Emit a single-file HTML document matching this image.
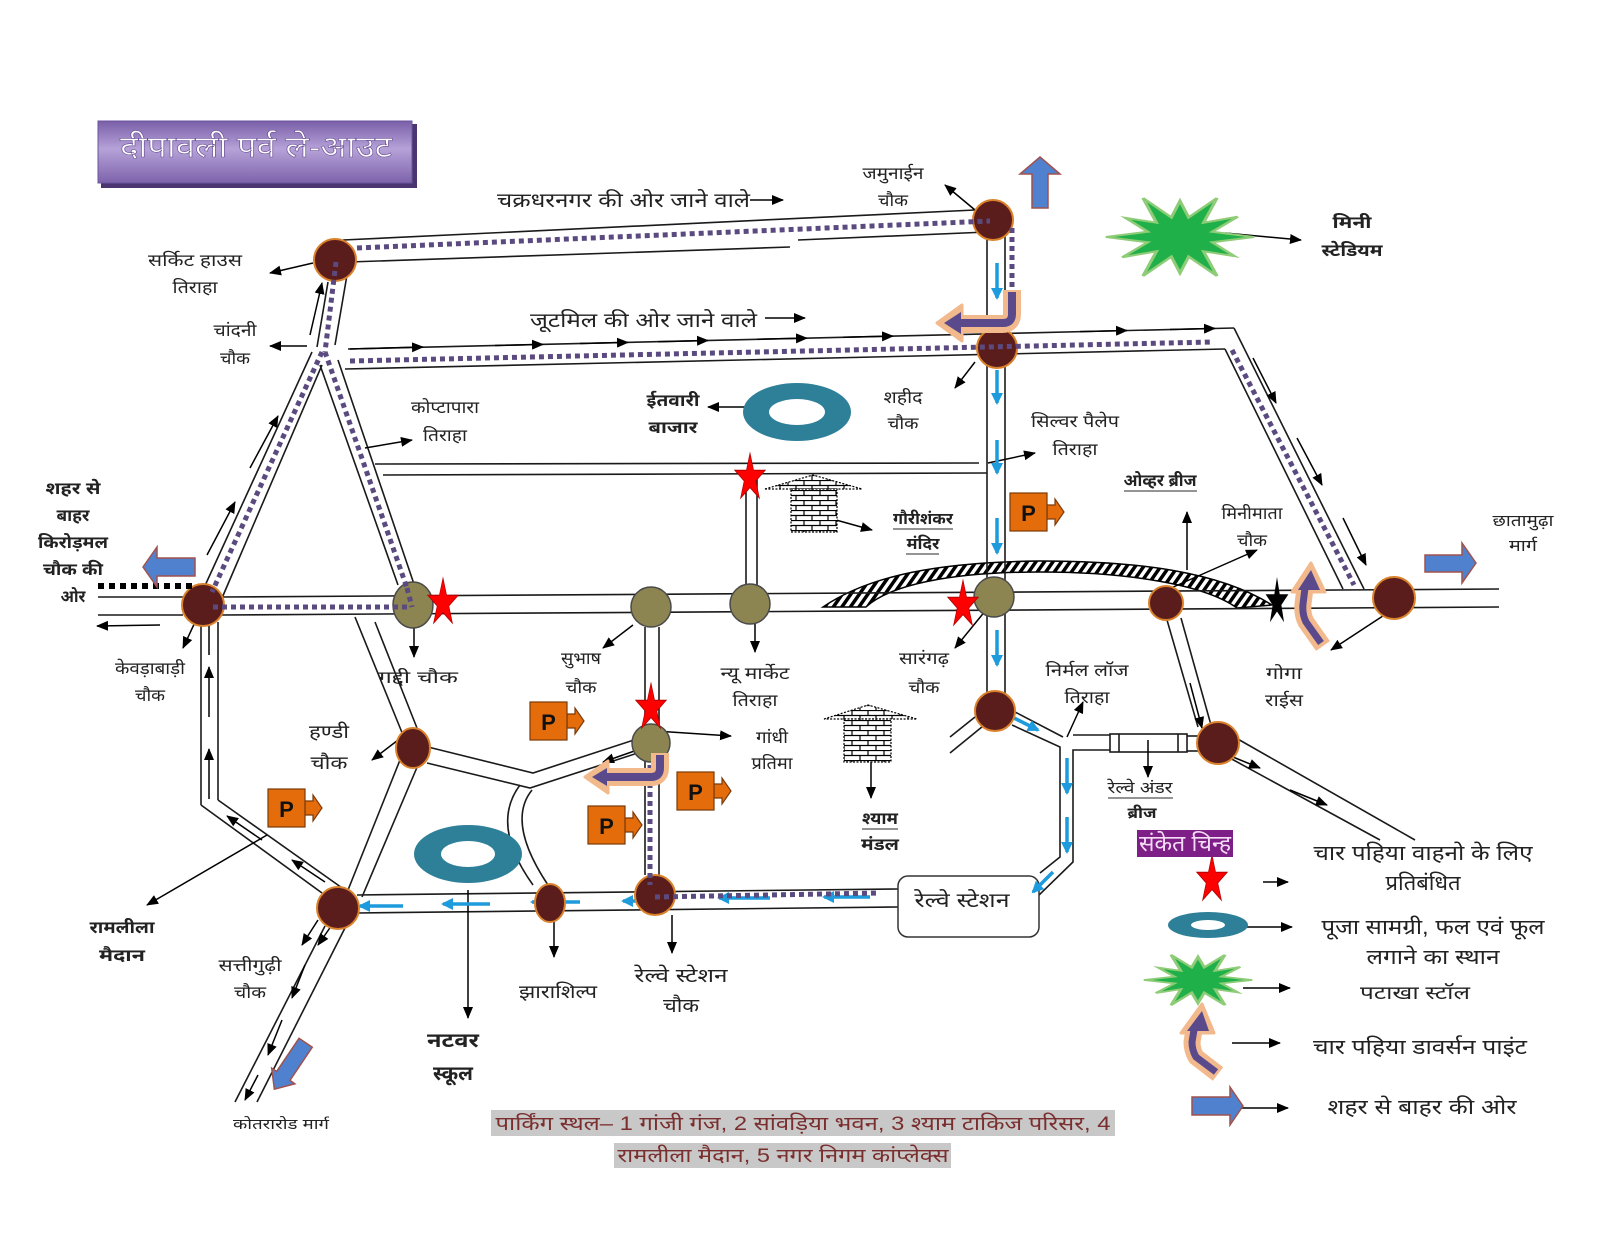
<!DOCTYPE html>
<html><head><meta charset="utf-8"><style>
html,body{margin:0;padding:0;background:#fff;}
svg{display:block;}
text{font-family:"Liberation Sans","Noto Sans Devanagari","Lohit Devanagari","FreeSans",sans-serif;fill:#222;}
.b{font-weight:bold;}
</style></head><body>
<svg width="1600" height="1236" viewBox="0 0 1600 1236" xmlns="http://www.w3.org/2000/svg" xmlns:xlink="http://www.w3.org/1999/xlink">
<defs>
<marker id="ah" markerUnits="userSpaceOnUse" markerWidth="12" markerHeight="10" refX="11" refY="5" orient="auto"><path d="M0,0L12,5L0,10z" fill="#000"/></marker>
<marker id="bh" markerUnits="userSpaceOnUse" markerWidth="12" markerHeight="12" refX="10" refY="6" orient="auto"><path d="M0,0L12,6L0,12z" fill="#1e9bdc"/></marker>
<linearGradient id="tg" x1="0" y1="0" x2="0" y2="1">
<stop offset="0" stop-color="#7a5fa8"/><stop offset="0.45" stop-color="#b6a2d8"/><stop offset="1" stop-color="#7d62ab"/>
</linearGradient>
<pattern id="hatch" width="7" height="7" patternUnits="userSpaceOnUse" patternTransform="rotate(35)">
<rect width="7" height="7" fill="#fff"/><rect x="0" y="0" width="3.5" height="7" fill="#000"/>
</pattern>
<pattern id="brick" width="16" height="10" patternUnits="userSpaceOnUse">
<rect width="16" height="10" fill="#fff"/><path d="M0,0.5H16M0,5.5H16M4,0.5V5.5M12,5.5V10" stroke="#000" stroke-width="1.2" fill="none"/>
</pattern>
<path id="st" d="M0,-1 L0.225,-0.309 L0.951,-0.309 L0.363,0.118 L0.588,0.809 L0,0.382 L-0.588,0.809 L-0.363,0.118 L-0.951,-0.309 L-0.225,-0.309Z"/>
<polygon id="burst" points="1,0 0.435,0.117 0.736,0.425 0.318,0.318 0.5,0.866 0.117,0.435 0,0.8 -0.117,0.435 -0.5,0.866 -0.318,0.318 -0.779,0.45 -0.435,0.117 -1,0 -0.435,-0.117 -0.736,-0.425 -0.318,-0.318 -0.5,-0.866 -0.117,-0.435 0,-0.8 0.117,-0.435 0.5,-0.866 0.318,-0.318 0.779,-0.45 0.435,-0.117"/>
</defs>

<rect width="1600" height="1236" fill="#fff"/>

<!-- Title -->
<rect x="101" y="124" width="316" height="64" fill="#4a3570"/>
<rect x="98" y="121" width="314" height="62" fill="url(#tg)" stroke="#6a55a0" stroke-width="1"/>
<text x="120" y="157" font-size="30" textLength="272" lengthAdjust="spacingAndGlyphs" style="fill:#fff;stroke:#6a4f96;stroke-width:0.6">दीपावली पर्व ले-आउट</text>

<!-- Overbridge hatched -->
<path d="M823,607 C870,575 940,562 1040,561 C1140,561 1220,572 1272,605 L1237,608 C1205,585 1130,572 1040,572 C950,572 890,585 866,607 Z" fill="url(#hatch)" stroke="#000" stroke-width="1.5"/>

<!-- Roads -->
<g stroke="#1a1a1a" stroke-width="1.6" fill="none">
<line x1="343" y1="240" x2="975" y2="210"/>
<line x1="349" y1="262" x2="790" y2="247"/>
<line x1="798" y1="240" x2="987" y2="232"/>
<line x1="347" y1="275" x2="335" y2="345"/>
<line x1="328" y1="282" x2="317" y2="347"/>
<line x1="312" y1="352" x2="203" y2="590"/>
<line x1="322" y1="365" x2="222" y2="598"/>
<line x1="320" y1="365" x2="398" y2="585"/>
<line x1="338" y1="360" x2="416" y2="590"/>
<line x1="348" y1="349" x2="1234" y2="328"/>
<line x1="345" y1="369" x2="1225" y2="349"/>
<line x1="1234" y1="328" x2="1364" y2="589"/>
<line x1="1225" y1="349" x2="1343" y2="589"/>
<line x1="98" y1="597" x2="183" y2="597"/>
<line x1="98" y1="615" x2="183" y2="615"/>
<line x1="222" y1="597" x2="1499" y2="589"/>
<line x1="222" y1="615" x2="1499" y2="607"/>
<line x1="375" y1="464" x2="979" y2="463"/>
<line x1="383" y1="475" x2="987" y2="473"/>
<line x1="746" y1="474" x2="746" y2="586"/>
<line x1="757" y1="474" x2="757" y2="586"/>
<line x1="987" y1="232" x2="987" y2="695"/>
<line x1="1005" y1="232" x2="1005" y2="695"/>
<line x1="201" y1="622" x2="201" y2="805"/>
<line x1="218" y1="622" x2="218" y2="800"/>
<line x1="201" y1="805" x2="322" y2="893"/>
<line x1="218" y1="800" x2="345" y2="890"/>
<line x1="355" y1="617" x2="403" y2="735"/>
<line x1="375" y1="622" x2="417" y2="728"/>
<line x1="400" y1="760" x2="348" y2="890"/>
<line x1="418" y1="765" x2="362" y2="897"/>
<polyline points="428,747 533,773 643,737"/>
<polyline points="427,763 530,788 647,750"/>
<path d="M520,785 Q490,825 533,885"/>
<path d="M532,790 Q506,822 548,885"/>
<line x1="357" y1="895" x2="898" y2="889"/>
<line x1="357" y1="913" x2="898" y2="907"/>
<line x1="645" y1="627" x2="645" y2="875"/>
<line x1="659" y1="627" x2="659" y2="875"/>
<line x1="325" y1="926" x2="235" y2="1102"/>
<line x1="347" y1="924" x2="257" y2="1102"/>
<line x1="1015" y1="712" x2="1063" y2="737"/>
<line x1="1073" y1="735" x2="1110" y2="735"/>
<polyline points="1012,725 1060,747 1060,857 1040,873"/>
<polyline points="1110,750 1073,750 1073,862 1037,897"/>
<line x1="975" y1="717" x2="950" y2="737"/>
<line x1="988" y1="722" x2="950" y2="753"/>
<rect x="1110" y="734" width="77" height="18" fill="#fff"/>
<line x1="1119" y1="734" x2="1119" y2="752"/>
<line x1="1178" y1="734" x2="1178" y2="752"/>
<line x1="1187" y1="736" x2="1200" y2="736"/>
<line x1="1187" y1="751" x2="1200" y2="751"/>
<line x1="1167" y1="620" x2="1198" y2="727"/>
<line x1="1181" y1="618" x2="1211" y2="725"/>
<line x1="1236" y1="738" x2="1415" y2="840"/>
<line x1="1228" y1="757" x2="1380" y2="840"/>
</g>

<!-- Railway station box -->
<rect x="898" y="876" width="141" height="61" rx="10" fill="#fff" stroke="#333" stroke-width="1.5"/>

<!-- Black arrows -->
<g stroke="#000" stroke-width="1.5" fill="none" marker-end="url(#ah)">
<line x1="350" y1="349" x2="423" y2="347"/>
<line x1="495" y1="345.5" x2="543" y2="344.4"/>
<line x1="580" y1="343.5" x2="628" y2="342.4"/>
<line x1="658" y1="341.7" x2="708" y2="340.5"/>
<line x1="757" y1="339.3" x2="807" y2="338.1"/>
<line x1="843" y1="337.3" x2="893" y2="336.1"/>
<line x1="1080" y1="331.6" x2="1127" y2="330.5"/>
<line x1="1170" y1="329.5" x2="1215" y2="328.4"/>
<line x1="1253" y1="358" x2="1276" y2="403"/>
<line x1="1297" y1="438" x2="1322" y2="485"/>
<line x1="1343" y1="518" x2="1366" y2="565"/>
<line x1="310" y1="335" x2="322" y2="283"/>
<line x1="250" y1="468" x2="278" y2="416"/>
<line x1="207" y1="555" x2="235" y2="502"/>
<line x1="160" y1="625" x2="97" y2="626"/>
<line x1="209" y1="655" x2="209" y2="605"/>
<line x1="209" y1="717" x2="209" y2="667"/>
<line x1="209" y1="799" x2="209" y2="749"/>
<line x1="262" y1="840" x2="227" y2="816"/>
<line x1="325" y1="882" x2="292" y2="860"/>
<line x1="318" y1="920" x2="302" y2="945"/>
<line x1="334" y1="922" x2="318" y2="945"/>
<line x1="305" y1="965" x2="292" y2="998"/>
<line x1="282" y1="1020" x2="268" y2="1055"/>
<line x1="258" y1="1075" x2="245" y2="1100"/>
<line x1="313" y1="263" x2="270" y2="273"/>
<line x1="307" y1="346" x2="270" y2="346"/>
<line x1="975" y1="210" x2="945" y2="185"/>
<line x1="975" y1="362" x2="955" y2="388"/>
<line x1="988" y1="463" x2="1035" y2="453"/>
<line x1="752" y1="407" x2="708" y2="407"/>
<line x1="836" y1="520" x2="872" y2="530"/>
<line x1="1187" y1="570" x2="1187" y2="512"/>
<line x1="1171" y1="588" x2="1257" y2="550"/>
<line x1="1392" y1="610" x2="1331" y2="650"/>
<line x1="203" y1="605" x2="183" y2="648"/>
<line x1="414" y1="625" x2="414" y2="657"/>
<line x1="633" y1="625" x2="603" y2="648"/>
<line x1="755" y1="624" x2="755" y2="652"/>
<line x1="986" y1="610" x2="955" y2="648"/>
<line x1="640" y1="730" x2="731" y2="736"/>
<line x1="643" y1="748" x2="603" y2="762"/>
<line x1="402" y1="737" x2="372" y2="760"/>
<line x1="871" y1="762" x2="871" y2="798"/>
<line x1="1067" y1="737" x2="1083" y2="702"/>
<line x1="1148" y1="740" x2="1148" y2="777"/>
<line x1="554" y1="913" x2="554" y2="957"/>
<line x1="672" y1="915" x2="672" y2="953"/>
<line x1="468" y1="890" x2="468" y2="1018"/>
<line x1="267" y1="835" x2="147" y2="905"/>
<line x1="1225" y1="233" x2="1301" y2="240"/>
<line x1="750" y1="200" x2="783" y2="200"/>
<line x1="765" y1="318" x2="805" y2="318"/>
<line x1="365" y1="448" x2="412" y2="440"/>
<line x1="1190" y1="683" x2="1202" y2="728"/>
<line x1="1228" y1="755" x2="1260" y2="768"/>
<line x1="1290" y1="790" x2="1327" y2="805"/>
<line x1="1263" y1="882" x2="1288" y2="882"/>
<line x1="1245" y1="927" x2="1292" y2="927"/>
<line x1="1243" y1="988" x2="1290" y2="988"/>
<line x1="1232" y1="1043" x2="1280" y2="1043"/>
<line x1="1242" y1="1108" x2="1288" y2="1108"/>
</g>

<!-- Blue flow arrows -->
<g stroke="#1e9bdc" stroke-width="3.5" fill="none" marker-end="url(#bh)">
<line x1="997" y1="263" x2="997" y2="298"/>
<line x1="997" y1="370" x2="997" y2="403"/>
<line x1="997" y1="440" x2="997" y2="473"/>
<line x1="997" y1="518" x2="997" y2="553"/>
<line x1="997" y1="630" x2="997" y2="665"/>
<line x1="998" y1="710" x2="1038" y2="730"/>
<line x1="1067" y1="758" x2="1067" y2="793"/>
<line x1="1067" y1="817" x2="1067" y2="852"/>
<line x1="1053" y1="872" x2="1033" y2="892"/>
<line x1="403" y1="906" x2="360" y2="906"/>
<line x1="490" y1="904" x2="443" y2="904"/>
<line x1="580" y1="902" x2="532" y2="902"/>
<line x1="637" y1="901" x2="623" y2="901"/>
<line x1="770" y1="898" x2="719" y2="898"/>
<line x1="870" y1="897" x2="824" y2="897"/>
</g>

<!-- Temples -->
<polygon points="765,489 813,475 862,489" fill="url(#brick)" stroke="#000" stroke-width="1.2" stroke-dasharray="2 1.5"/>
<rect x="791" y="489" width="46" height="43" fill="url(#brick)" stroke="#000" stroke-width="1.2" stroke-dasharray="2 1.5"/>
<polygon points="824,719 868,705 917,719" fill="url(#brick)" stroke="#000" stroke-width="1.2" stroke-dasharray="2 1.5"/>
<rect x="844" y="719" width="47" height="43" fill="url(#brick)" stroke="#000" stroke-width="1.2" stroke-dasharray="2 1.5"/>

<!-- Rings -->
<ellipse cx="797" cy="412" rx="54" ry="29" fill="#2e7f98"/>
<ellipse cx="797" cy="412" rx="28" ry="13" fill="#fff"/>
<ellipse cx="468" cy="854" rx="54" ry="29" fill="#2e7f98"/>
<ellipse cx="468" cy="854" rx="27" ry="13" fill="#fff"/>
<ellipse cx="1208" cy="925" rx="40" ry="13" fill="#2e7f98"/>
<ellipse cx="1208" cy="925" rx="17" ry="5" fill="#fff"/>

<!-- Green bursts -->
<use xlink:href="#burst" transform="translate(1180,237) scale(74,45)" fill="#20b04a" stroke="#8fcc78" stroke-width="0.045"/>
<use xlink:href="#burst" transform="translate(1198,980) scale(54,29)" fill="#20b04a" stroke="#8fcc78" stroke-width="0.06"/>

<!-- Nodes -->
<g fill="#5b1c1c" stroke="#d9822b" stroke-width="2">
<circle cx="335" cy="260" r="21"/>
<circle cx="993" cy="220" r="20"/>
<circle cx="997" cy="348" r="20"/>
<circle cx="203" cy="605" r="21"/>
<circle cx="1166" cy="603" r="17"/>
<circle cx="1394" cy="598" r="21"/>
<ellipse cx="413" cy="748" rx="17" ry="20"/>
<circle cx="995" cy="711" r="20"/>
<circle cx="1218" cy="743" r="21"/>
<circle cx="338" cy="908" r="21"/>
<ellipse cx="550" cy="903" rx="15" ry="19"/>
<circle cx="655" cy="895" r="20"/>
</g>
<g fill="#8c8552" stroke="#4a4a4a" stroke-width="1.5">
<ellipse cx="413" cy="605" rx="20" ry="23"/>
<circle cx="651" cy="607" r="20"/>
<circle cx="750" cy="604" r="20"/>
<circle cx="994" cy="597" r="20"/>
<circle cx="651" cy="743" r="19"/>
</g>

<!-- Dotted routes -->
<g stroke="#5b4a80" stroke-width="5" stroke-dasharray="5 4" fill="none">
<line x1="357" y1="248" x2="990" y2="221"/>
<line x1="1012" y1="228" x2="1012" y2="292"/>
<line x1="336" y1="262" x2="325" y2="352"/>
<line x1="322" y1="352" x2="212" y2="592"/>
<line x1="325" y1="352" x2="407" y2="588"/>
<line x1="407" y1="588" x2="412" y2="607"/>
<line x1="213" y1="607" x2="407" y2="607"/>
<line x1="350" y1="361" x2="1213" y2="342"/>
<line x1="1232" y1="350" x2="1354" y2="585"/>
<line x1="650" y1="765" x2="650" y2="885"/>
<line x1="655" y1="897" x2="880" y2="893"/>
</g>
<line x1="98" y1="586" x2="195" y2="586" stroke="#000" stroke-width="6" stroke-dasharray="6 5"/>

<!-- Stars -->
<g fill="#f00" stroke="#b00000" stroke-width="0.04">
<use xlink:href="#st" transform="translate(443,603) scale(16,25)"/>
<use xlink:href="#st" transform="translate(750,478) scale(16,25)"/>
<use xlink:href="#st" transform="translate(651,708) scale(16,25)"/>
<use xlink:href="#st" transform="translate(963,605) scale(16,25)"/>
<use xlink:href="#st" transform="translate(1212,880) scale(16,25)"/>
</g>
<use xlink:href="#st" transform="translate(1277,602) scale(12,25)" fill="#000"/>

<!-- Diversion arrows -->
<g fill="none" stroke-linejoin="round">
<path d="M1012,290 V314 Q1012,324 1002,324 H958" stroke="#f2b98c" stroke-width="18"/>
<polygon points="937,323 962,305 962,341" fill="#f2b98c" stroke="#f2b98c" stroke-width="3"/>
<path d="M1012,292 V314 Q1012,323 1003,323 H958" stroke="#5b4a8b" stroke-width="8"/>
<polygon points="944,323 961,312 961,334" fill="#5b4a8b"/>

<path d="M660,753 V768 Q660,777 651,777 H605" stroke="#f2b98c" stroke-width="18"/>
<polygon points="585,777 608,761 608,793" fill="#f2b98c" stroke="#f2b98c" stroke-width="3"/>
<path d="M660,755 V768 Q660,777 651,777 H605" stroke="#5b4a8b" stroke-width="8"/>
<polygon points="592,777 607,768 607,786" fill="#5b4a8b"/>

<path d="M1323,646 L1306,622 Q1302,614 1303,604 L1305,588" stroke="#f2b98c" stroke-width="17"/>
<polygon points="1292,592 1311,563 1325,592" fill="#f2b98c" stroke="#f2b98c" stroke-width="3"/>
<path d="M1321,643 L1306,622 Q1302,614 1303,604 L1305,588" stroke="#5b4a8b" stroke-width="7"/>
<polygon points="1298,590 1311,570 1320,590" fill="#5b4a8b"/>

<path d="M1218,1074 L1196,1057 Q1192,1050 1192,1042 L1194,1030" stroke="#f2b98c" stroke-width="17"/>
<polygon points="1181,1033 1202,1004 1214,1033" fill="#f2b98c" stroke="#f2b98c" stroke-width="3"/>
<path d="M1216,1072 L1196,1057 Q1192,1050 1192,1042 L1194,1030" stroke="#5b4a8b" stroke-width="7"/>
<polygon points="1187,1031 1202,1011 1209,1031" fill="#5b4a8b"/>
</g>

<!-- Blue block arrows -->
<g fill="#4f81cf" stroke="#a0524d" stroke-width="1.5">
<polygon points="1040,157 1060,174 1048,174 1048,208 1032,208 1032,174 1020,174"/>
<polygon points="143,567 157,547 157,558 195,558 195,576 157,576 157,587"/>
<polygon points="1476,563 1462,543 1462,555 1425,555 1425,572 1462,572 1462,583"/>
<polygon points="1243,1106 1230,1087 1230,1097 1192,1097 1192,1115 1230,1115 1230,1125"/>
<polygon points="0,28 -14,12 -8,12 -8,-28 8,-28 8,12 14,12" transform="translate(290,1066) rotate(34)"/>
</g>

<!-- Parking boxes -->
<g>
<g transform="translate(1010,493)">
<polygon points="37,12 45,12 45,6 54,19 45,32 45,26 37,26" fill="#e46c0a" stroke="#7a3a08" stroke-width="1.2"/>
<rect x="0" y="0" width="37" height="38" fill="#e46c0a" stroke="#7a3a08" stroke-width="1.2"/>
<text x="18.5" y="28" font-size="22" class="b" text-anchor="middle" style="fill:#111">P</text>
</g>
<g transform="translate(530,702)">
<polygon points="37,12 45,12 45,6 54,19 45,32 45,26 37,26" fill="#e46c0a" stroke="#7a3a08" stroke-width="1.2"/>
<rect x="0" y="0" width="37" height="38" fill="#e46c0a" stroke="#7a3a08" stroke-width="1.2"/>
<text x="18.5" y="28" font-size="22" class="b" text-anchor="middle" style="fill:#111">P</text>
</g>
<g transform="translate(268,789)">
<polygon points="37,12 45,12 45,6 54,19 45,32 45,26 37,26" fill="#e46c0a" stroke="#7a3a08" stroke-width="1.2"/>
<rect x="0" y="0" width="37" height="38" fill="#e46c0a" stroke="#7a3a08" stroke-width="1.2"/>
<text x="18.5" y="28" font-size="22" class="b" text-anchor="middle" style="fill:#111">P</text>
</g>
<g transform="translate(588,806)">
<polygon points="37,12 45,12 45,6 54,19 45,32 45,26 37,26" fill="#e46c0a" stroke="#7a3a08" stroke-width="1.2"/>
<rect x="0" y="0" width="37" height="38" fill="#e46c0a" stroke="#7a3a08" stroke-width="1.2"/>
<text x="18.5" y="28" font-size="22" class="b" text-anchor="middle" style="fill:#111">P</text>
</g>
<g transform="translate(677,772)">
<polygon points="37,12 45,12 45,6 54,19 45,32 45,26 37,26" fill="#e46c0a" stroke="#7a3a08" stroke-width="1.2"/>
<rect x="0" y="0" width="37" height="38" fill="#e46c0a" stroke="#7a3a08" stroke-width="1.2"/>
<text x="18.5" y="28" font-size="22" class="b" text-anchor="middle" style="fill:#111">P</text>
</g>
</g>

<!-- Labels -->
<g font-size="17" text-anchor="middle">
<text x="497" y="207" font-size="20" text-anchor="start" textLength="253" lengthAdjust="spacingAndGlyphs">चक्रधरनगर की ओर जाने वाले</text>
<text x="530" y="327" font-size="20" text-anchor="start" textLength="227" lengthAdjust="spacingAndGlyphs">जूटमिल की ओर जाने वाले</text>
<text x="893" y="179" textLength="61" lengthAdjust="spacingAndGlyphs">जमुनाईन</text>
<text x="893" y="206" textLength="30" lengthAdjust="spacingAndGlyphs">चौक</text>
<text x="195" y="266" textLength="94" lengthAdjust="spacingAndGlyphs">सर्किट हाउस</text>
<text x="195" y="293" textLength="45" lengthAdjust="spacingAndGlyphs">तिराहा</text>
<text x="235" y="336" textLength="43" lengthAdjust="spacingAndGlyphs">चांदनी</text>
<text x="235" y="364" textLength="30" lengthAdjust="spacingAndGlyphs">चौक</text>
<text x="445" y="413" textLength="68" lengthAdjust="spacingAndGlyphs">कोप्टापारा</text>
<text x="445" y="441" textLength="44" lengthAdjust="spacingAndGlyphs">तिराहा</text>
<text x="673" y="406" class="b" textLength="53" lengthAdjust="spacingAndGlyphs">ईतवारी</text>
<text x="673" y="433" class="b" textLength="49" lengthAdjust="spacingAndGlyphs">बाजार</text>
<text x="903" y="403" textLength="39" lengthAdjust="spacingAndGlyphs">शहीद</text>
<text x="903" y="429" textLength="31" lengthAdjust="spacingAndGlyphs">चौक</text>
<text x="1075" y="427" textLength="88" lengthAdjust="spacingAndGlyphs">सिल्वर पैलेप</text>
<text x="1075" y="455" textLength="45" lengthAdjust="spacingAndGlyphs">तिराहा</text>
<text x="1352" y="228" class="b" textLength="39" lengthAdjust="spacingAndGlyphs">मिनी</text>
<text x="1352" y="256" class="b" textLength="61" lengthAdjust="spacingAndGlyphs">स्टेडियम</text>
<text x="1160" y="486" class="b" textLength="73" lengthAdjust="spacingAndGlyphs">ओव्हर ब्रीज</text>
<text x="1252" y="519" textLength="61" lengthAdjust="spacingAndGlyphs">मिनीमाता</text>
<text x="1252" y="546" textLength="30" lengthAdjust="spacingAndGlyphs">चौक</text>
<text x="1523" y="526" font-size="16" textLength="61" lengthAdjust="spacingAndGlyphs">छातामुढ़ा</text>
<text x="1523" y="551" font-size="16" textLength="28" lengthAdjust="spacingAndGlyphs">मार्ग</text>
<text x="1284" y="679" textLength="36" lengthAdjust="spacingAndGlyphs">गोगा</text>
<text x="1284" y="706" textLength="38" lengthAdjust="spacingAndGlyphs">राईस</text>
<text x="73" y="494" class="b" textLength="55" lengthAdjust="spacingAndGlyphs">शहर से</text>
<text x="73" y="521" class="b" textLength="33" lengthAdjust="spacingAndGlyphs">बाहर</text>
<text x="73" y="548" class="b" textLength="70" lengthAdjust="spacingAndGlyphs">किरोड़मल</text>
<text x="73" y="575" class="b" textLength="60" lengthAdjust="spacingAndGlyphs">चौक की</text>
<text x="73" y="602" class="b" textLength="25" lengthAdjust="spacingAndGlyphs">ओर</text>
<text x="150" y="674" textLength="70" lengthAdjust="spacingAndGlyphs">केवड़ाबाड़ी</text>
<text x="150" y="701" textLength="30" lengthAdjust="spacingAndGlyphs">चौक</text>
<text x="418" y="683" textLength="80" lengthAdjust="spacingAndGlyphs">गद्दी चौक</text>
<text x="581" y="664" textLength="40" lengthAdjust="spacingAndGlyphs">सुभाष</text>
<text x="581" y="693" textLength="31" lengthAdjust="spacingAndGlyphs">चौक</text>
<text x="755" y="679" textLength="69" lengthAdjust="spacingAndGlyphs">न्यू मार्केट</text>
<text x="755" y="706" textLength="45" lengthAdjust="spacingAndGlyphs">तिराहा</text>
<text x="923" y="524" class="b" font-size="16" textLength="60" lengthAdjust="spacingAndGlyphs">गौरीशंकर</text>
<text x="923" y="549" class="b" font-size="16" textLength="33" lengthAdjust="spacingAndGlyphs">मंदिर</text>
<text x="924" y="664" textLength="50" lengthAdjust="spacingAndGlyphs">सारंगढ़</text>
<text x="924" y="693" textLength="31" lengthAdjust="spacingAndGlyphs">चौक</text>
<text x="1087" y="676" textLength="83" lengthAdjust="spacingAndGlyphs">निर्मल लॉज</text>
<text x="1087" y="703" textLength="45" lengthAdjust="spacingAndGlyphs">तिराहा</text>
<text x="329" y="738" font-size="18" textLength="40" lengthAdjust="spacingAndGlyphs">हण्डी</text>
<text x="329" y="769" font-size="18" textLength="37" lengthAdjust="spacingAndGlyphs">चौक</text>
<text x="772" y="743" textLength="32" lengthAdjust="spacingAndGlyphs">गांधी</text>
<text x="772" y="769" textLength="41" lengthAdjust="spacingAndGlyphs">प्रतिमा</text>
<text x="880" y="824" class="b" textLength="36" lengthAdjust="spacingAndGlyphs">श्याम</text>
<text x="880" y="850" class="b" textLength="38" lengthAdjust="spacingAndGlyphs">मंडल</text>
<text x="1140" y="793" font-size="16" textLength="65" lengthAdjust="spacingAndGlyphs">रेल्वे अंडर</text>
<text x="1142" y="818" class="b" font-size="15" textLength="29" lengthAdjust="spacingAndGlyphs">ब्रीज</text>
<text x="962" y="907" font-size="20" textLength="95" lengthAdjust="spacingAndGlyphs">रेल्वे स्टेशन</text>
<text x="122" y="933" class="b" textLength="65" lengthAdjust="spacingAndGlyphs">रामलीला</text>
<text x="122" y="961" class="b" textLength="46" lengthAdjust="spacingAndGlyphs">मैदान</text>
<text x="250" y="971" textLength="63" lengthAdjust="spacingAndGlyphs">सत्तीगुढ़ी</text>
<text x="250" y="998" textLength="32" lengthAdjust="spacingAndGlyphs">चौक</text>
<text x="558" y="998" font-size="18" textLength="78" lengthAdjust="spacingAndGlyphs">झाराशिल्प</text>
<text x="681" y="982" font-size="19" textLength="93" lengthAdjust="spacingAndGlyphs">रेल्वे स्टेशन</text>
<text x="681" y="1012" font-size="19" textLength="36" lengthAdjust="spacingAndGlyphs">चौक</text>
<text x="453" y="1047" class="b" font-size="20" textLength="52" lengthAdjust="spacingAndGlyphs">नटवर</text>
<text x="453" y="1080" class="b" font-size="20" textLength="40" lengthAdjust="spacingAndGlyphs">स्कूल</text>
<text x="281" y="1129" font-size="14" textLength="96" lengthAdjust="spacingAndGlyphs">कोतरारोड मार्ग</text>
</g>

<!-- Underlines -->
<g stroke="#555" stroke-width="1.2">
<line x1="1124" y1="491" x2="1197" y2="491"/>
<line x1="893" y1="529" x2="953" y2="529"/>
<line x1="906" y1="554" x2="939" y2="554"/>
<line x1="862" y1="829" x2="898" y2="829"/>
<line x1="1108" y1="798" x2="1173" y2="798"/>
</g>

<!-- Legend -->
<rect x="1137" y="830" width="96" height="27" fill="#7d1f86"/>
<text x="1185" y="851" font-size="22" text-anchor="middle" textLength="92" lengthAdjust="spacingAndGlyphs" style="fill:#f4dcf6">संकेत चिन्ह</text>
<g font-size="21" text-anchor="middle">
<text x="1423" y="860" textLength="219" lengthAdjust="spacingAndGlyphs">चार पहिया वाहनो के लिए</text>
<text x="1423" y="890" textLength="75" lengthAdjust="spacingAndGlyphs">प्रतिबंधित</text>
<text x="1433" y="934" textLength="223" lengthAdjust="spacingAndGlyphs">पूजा सामग्री, फल एवं फूल</text>
<text x="1433" y="964" textLength="133" lengthAdjust="spacingAndGlyphs">लगाने का स्थान</text>
<text x="1415" y="999" font-size="18" textLength="110" lengthAdjust="spacingAndGlyphs">पटाखा स्टॉल</text>
<text x="1420" y="1054" textLength="214" lengthAdjust="spacingAndGlyphs">चार पहिया डावर्सन पाइंट</text>
<text x="1422" y="1114" textLength="189" lengthAdjust="spacingAndGlyphs">शहर से बाहर की ओर</text>
</g>

<!-- Footer -->
<rect x="491" y="1110" width="624" height="26" fill="#c8c8c8"/>
<rect x="614" y="1143" width="337" height="25" fill="#c8c8c8"/>
<text x="803" y="1130" font-size="19" text-anchor="middle" textLength="615" lengthAdjust="spacingAndGlyphs" style="fill:#7a2e2e">पार्किंग स्थल– 1 गांजी गंज, 2 सांवड़िया भवन, 3 श्याम टाकिज परिसर, 4</text>
<text x="783" y="1162" font-size="19" text-anchor="middle" textLength="331" lengthAdjust="spacingAndGlyphs" style="fill:#7a2e2e">रामलीला मैदान, 5 नगर निगम कांप्लेक्स</text>
</svg>
</body></html>
